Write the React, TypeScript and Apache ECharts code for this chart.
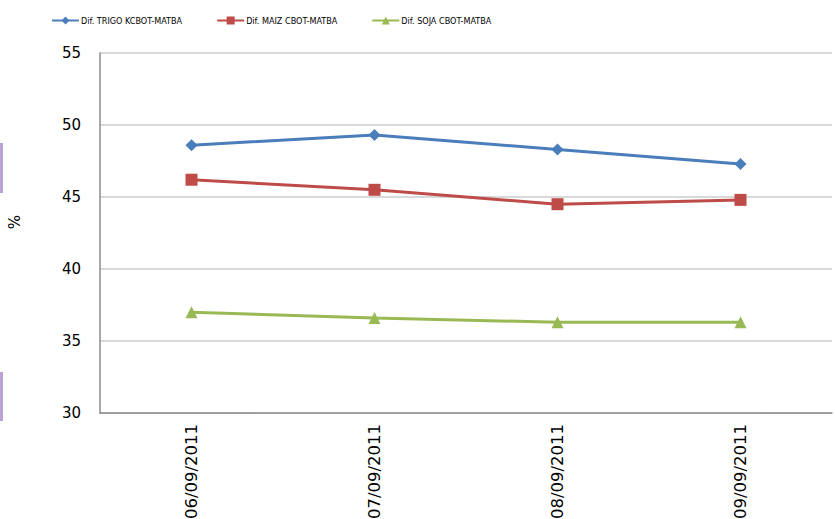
import React, { useEffect, useRef } from "react";
import * as echarts from "echarts";

const categories = ["06/09/2011", "07/09/2011", "08/09/2011", "09/09/2011"];
const trigo = [48.6, 49.3, 48.3, 47.3];
const maiz = [46.2, 45.5, 44.5, 44.8];
const soja = [37.0, 36.6, 36.3, 36.3];
const seriesNames = ["Dif. TRIGO KCBOT-MATBA", "Dif. MAIZ CBOT-MATBA", "Dif. SOJA CBOT-MATBA"];
const yTicks = { min: 30, max: 55, interval: 5 };

export default function App() {
  const ref = useRef<HTMLDivElement>(null);
  useEffect(() => {
    const chart = echarts.init(ref.current!, null, { renderer: "svg" });
    const mk = (name: string, data: number[], color: string, symbol: string, size: number) => ({
      name,
      type: "line",
      data,
      symbol,
      symbolSize: size,
      lineStyle: { color, width: 3 },
      itemStyle: { color },
    });
    chart.setOption({
      animation: false,
      backgroundColor: "#ffffff",
      legend: {
        top: 11,
        left: 46,
        itemWidth: 27,
        itemHeight: 10,
        itemGap: 34,
        textStyle: { fontFamily: "Liberation Sans Narrow, DejaVu Sans Condensed, sans-serif", fontSize: 9, color: "#000", padding: [0, 0, 0, -3] },
        data: seriesNames,
      },
      grid: { left: 100, right: 3, top: 53, bottom: 106, containLabel: false, outerBoundsMode: "none" },
      xAxis: {
        type: "category",
        data: categories,
        boundaryGap: true,
        axisLine: { lineStyle: { color: "#8c8c8c", width: 1.5 } },
        axisTick: { show: false },
        axisLabel: { rotate: 90, fontFamily: "DejaVu Sans", fontSize: 16.5, color: "#000", margin: 11, interval: 0 },
      },
      yAxis: {
        type: "value",
        min: yTicks.min,
        max: yTicks.max,
        interval: yTicks.interval,
        name: "%",
        nameLocation: "middle",
        nameRotate: 90,
        nameGap: 78,
        nameTextStyle: { fontFamily: "DejaVu Sans", fontSize: 15, color: "#000", padding: [0, 0, 0, 22] },
        axisLine: { show: true, lineStyle: { color: "#8c8c8c", width: 1.5 } },
        axisTick: { show: false },
        axisLabel: { fontFamily: "DejaVu Sans", fontSize: 15, color: "#000", margin: 19 },
        splitLine: { lineStyle: { color: "#cccccc", width: 1.5 } },
      },
      graphic: [
        { type: "rect", shape: { x: 0, y: 143, width: 3, height: 50 }, style: { fill: "#b8a3d6" } },
        { type: "rect", shape: { x: 0, y: 372, width: 3, height: 49 }, style: { fill: "#b8a3d6" } },
      ],
      series: [
        mk(seriesNames[0], trigo, "#4a7ebb", "diamond", 12),
        mk(seriesNames[1], maiz, "#be4b48", "rect", 12),
        mk(seriesNames[2], soja, "#98b954", "triangle", 12),
      ],
    });
    return () => chart.dispose();
  }, []);
  return <div ref={ref} style={{ width: 835, height: 519, position: "absolute", left: 0, top: 0 }} />;
}
